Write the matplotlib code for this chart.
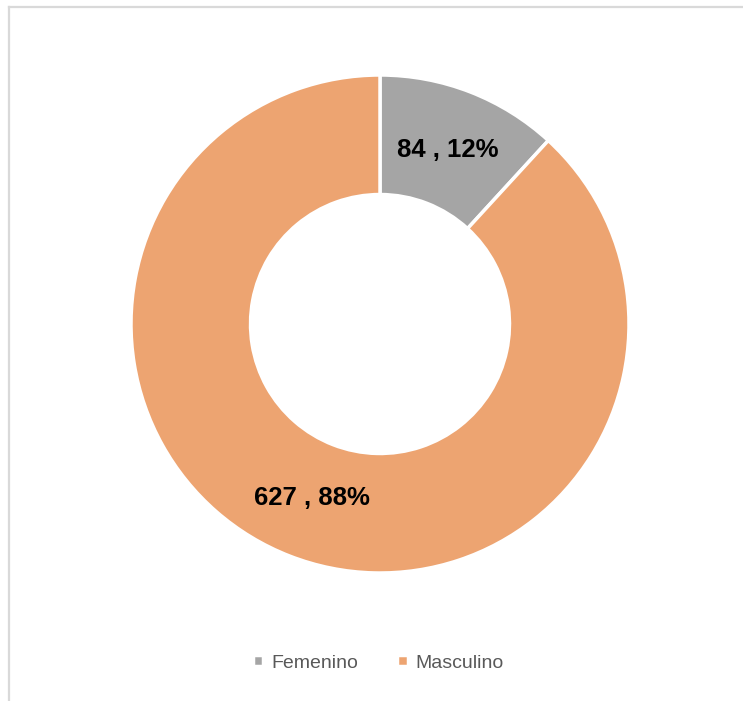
import matplotlib

matplotlib.use("Agg")

import matplotlib.pyplot as plt
from matplotlib.lines import Line2D

categories = ["Femenino", "Masculino"]
counts = [84, 627]
colors = ["#A5A5A5", "#EDA471"]

plt.rcParams["font.family"] = ["Liberation Sans", "DejaVu Sans"]

W, H = 743, 701
fig = plt.figure(figsize=(W / 100, H / 100), dpi=100)

# chart-area border (light gray, cut off at the right and bottom)
fig.add_artist(Line2D([8.5 / W, 8.5 / W], [0, 1 - 7 / H], color="#D9D9D9", lw=1.6))
fig.add_artist(Line2D([8.5 / W, 1], [1 - 7 / H, 1 - 7 / H], color="#D9D9D9", lw=1.6))

cx, cy, r = 380, 324, 249
ax = fig.add_axes([(cx - r) / W, (H - cy - r) / H, 2 * r / W, 2 * r / H])

total = sum(counts)


def fmt(p):
    return f"{round(p * total / 100):d} , {p:.0f}%"


wedges, texts, autotexts = ax.pie(
    counts, colors=colors, startangle=90, counterclock=False,
    autopct=fmt, pctdistance=0.75,
    wedgeprops=dict(width=0.48, edgecolor="white", linewidth=2.5),
    textprops=dict(fontsize=18.5, fontweight="bold", color="#000000"),
)
ax.set_xlim(-1, 1)
ax.set_ylim(-1, 1)
ax.set_aspect("equal")
ax.axis("off")

fig.legend(wedges, categories, loc="center", bbox_to_anchor=(0.509, 1 - 663 / H),
           ncol=2, frameon=False, fontsize=14, labelcolor="#595959",
           handlelength=0.55, handleheight=0.55, handletextpad=0.4,
           columnspacing=2.0)

fig.savefig("out.png", dpi=100)
